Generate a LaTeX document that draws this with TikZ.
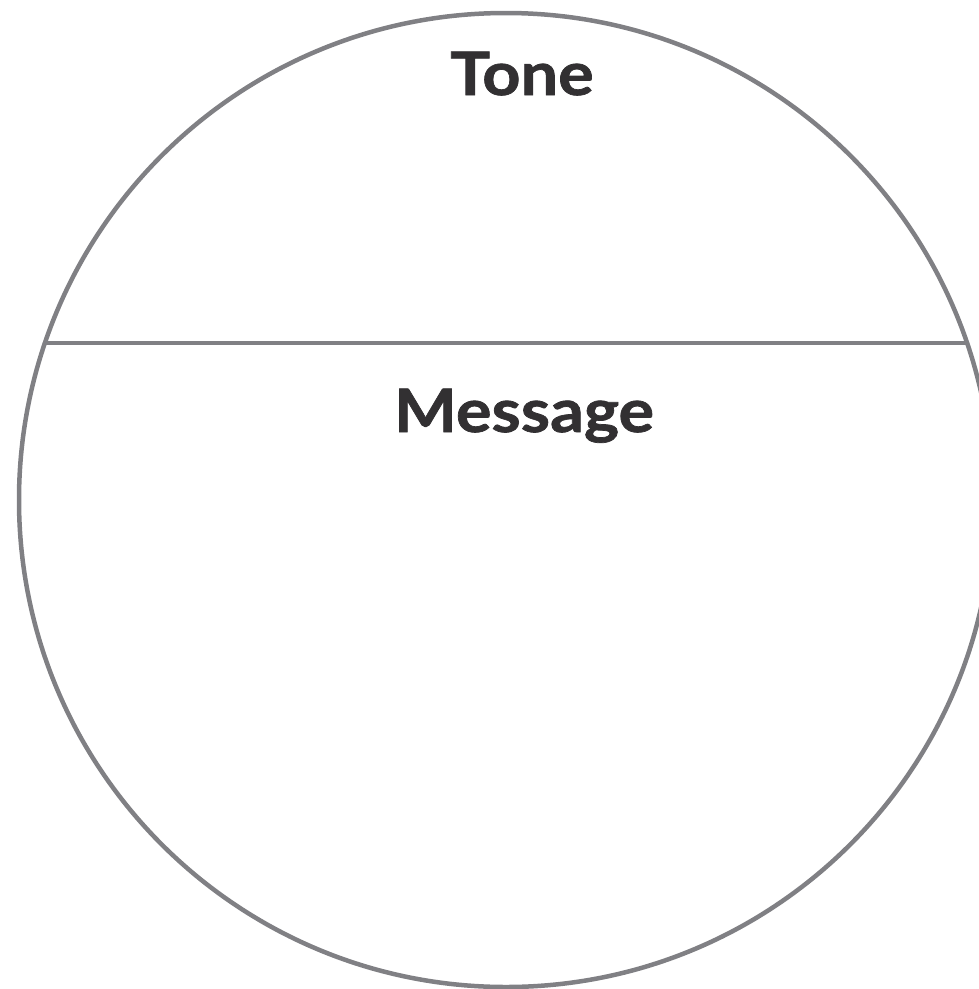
\documentclass[tikz,border=0pt]{standalone}
\usepackage{fontspec}
\setmainfont{Lato}
\newfontfamily\headfont{Lato}[FakeStretch=1.11, FakeBold=1.2]
\definecolor{rimgray}{RGB}{128,128,132}
\definecolor{inkgray}{RGB}{50,48,50}
\begin{document}
\begin{tikzpicture}[x=1pt, y=-1pt,
    rim/.style={draw=rimgray, line width=4.5pt},
    lbl/.style={font=\headfont\fontsize{60}{60}\selectfont\bfseries, text=inkgray, inner sep=0pt, anchor=base}
]
    \useasboundingbox (0,0) rectangle (979,989);
    \coordinate (centre) at (506,500);
    \draw[rim] (centre) circle[radius=487pt];
    \coordinate (chordL) at (45,343);
    \coordinate (chordR) at (968,343);
    \draw[rim] (chordL) -- (chordR);
    \node[lbl] (tone) at (522,95) {Tone};
    \node[lbl] (message) at (524,432) {Message};
\end{tikzpicture}
\end{document}
